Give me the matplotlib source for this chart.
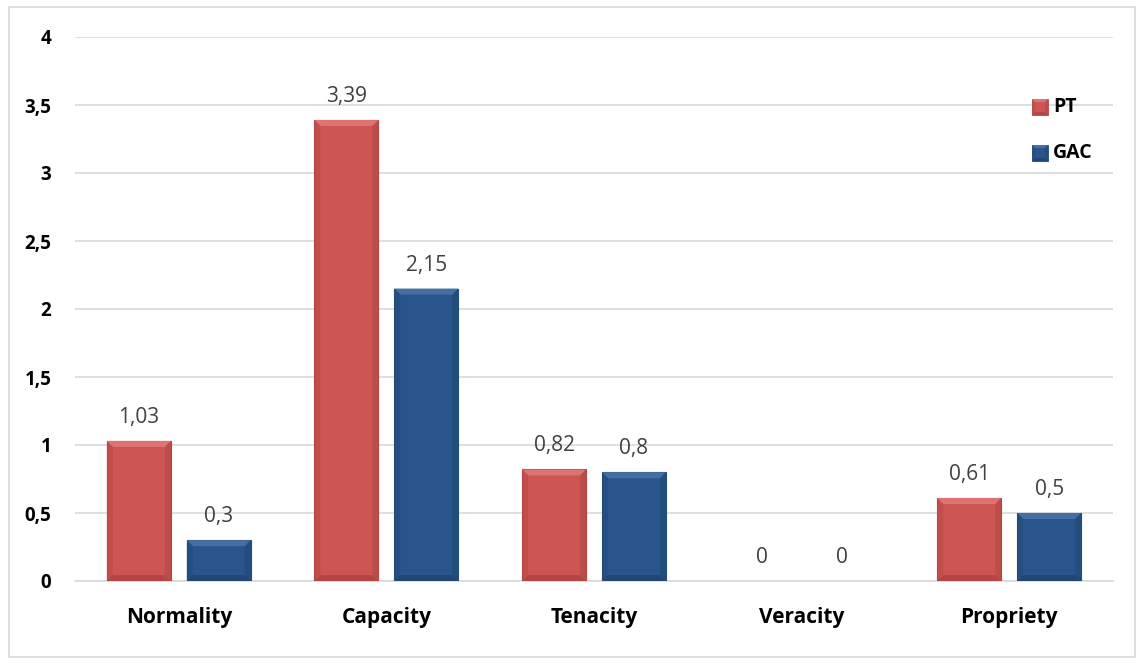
import matplotlib
matplotlib.use("Agg")
import matplotlib.pyplot as plt
from matplotlib.patches import Polygon, Rectangle
import numpy as np

categories = ["Normality", "Capacity", "Tenacity", "Veracity", "Propriety"]
pt_values = [1.03, 3.39, 0.82, 0.0, 0.61]
gac_values = [0.3, 2.15, 0.8, 0.0, 0.5]
pt_labels = ["1,03", "3,39", "0,82", "0", "0,61"]
gac_labels = ["0,3", "2,15", "0,8", "0", "0,5"]
y_ticks = [0, 0.5, 1, 1.5, 2, 2.5, 3, 3.5, 4]
y_ticklabels = ["0", "0,5", "1", "1,5", "2", "2,5", "3", "3,5", "4"]
series_names = ["PT", "GAC"]

plt.rcParams['font.family'] = ['Open Sans', 'DejaVu Sans']

W, H = 1142, 664
fig = plt.figure(figsize=(W / 100, H / 100), dpi=100)
ax = fig.add_axes([75 / W, (H - 581) / H, (1113 - 75) / W, (581 - 37) / H])

# outer border
fig.patches.append(Rectangle((9 / W, 1 - 657 / H), (1135 - 9) / W, (657 - 7) / H,
                             transform=fig.transFigure, fill=False,
                             edgecolor="#D9D9D9", linewidth=1.2))

x = np.arange(len(categories))
bw = 0.308
off = 0.1925

styles = {
    "PT": dict(face="#CD5654", top="#DE7472", side="#B84846", bot="#A23C3A", edge="#B04644"),
    "GAC": dict(face="#2A558C", top="#456EA2", side="#214A7A", bot="#1A3E68", edge="#234B7B"),
}

ppx = 5.0 / (1113 - 75)
ppy = 4.0 / (581 - 37)
bev_px = 6


def bevel(axis, x0, x1, y0, y1, bx, by, st, tr=None):
    kw = dict(closed=True, edgecolor="none", zorder=4)
    if tr is not None:
        kw["transform"] = tr
    axis.add_artist(Polygon([(x0, y1), (x1, y1), (x1 - bx, y1 - by), (x0 + bx, y1 - by)],
                            facecolor=st["top"], **kw))
    axis.add_artist(Polygon([(x0, y1), (x0 + bx, y1 - by), (x0 + bx, y0 + by), (x0, y0)],
                            facecolor=st["side"], alpha=0.5, **kw))
    axis.add_artist(Polygon([(x1, y1), (x1 - bx, y1 - by), (x1 - bx, y0 + by), (x1, y0)],
                            facecolor=st["side"], alpha=0.7, **kw))
    axis.add_artist(Polygon([(x0, y0), (x1, y0), (x1 - bx, y0 + by), (x0 + bx, y0 + by)],
                            facecolor=st["bot"], alpha=0.6, **kw))


def draw_bars(xs, vals, st):
    for xc, h in zip(xs, vals):
        if h <= 0:
            continue
        ax.bar(xc, h, width=bw, color=st["face"], edgecolor=st["edge"],
               linewidth=0.8, zorder=3)
        bevel(ax, xc - bw / 2, xc + bw / 2, 0, h, bev_px * ppx,
              min(bev_px * ppy, h / 2), st)


draw_bars(x - off, pt_values, styles["PT"])
draw_bars(x + off, gac_values, styles["GAC"])

lab_off = 18 * ppy
for xi, v, lab in zip(x - off, pt_values, pt_labels):
    ax.text(xi, v + lab_off, lab, ha="center", va="baseline", fontsize=15, color="#404040", zorder=5)
for xi, v, lab in zip(x + off, gac_values, gac_labels):
    ax.text(xi, v + lab_off, lab, ha="center", va="baseline", fontsize=15, color="#404040", zorder=5)

ax.set_xlim(-0.5, 4.5)
ax.set_ylim(0, 4)
ax.set_yticks(y_ticks)
ax.set_yticklabels(y_ticklabels, fontsize=13.5, fontweight="bold", color="#000000")
ax.set_xticks(x)
ax.set_xticklabels(categories, fontsize=15, fontweight="bold", color="#000000")
ax.tick_params(axis="both", length=0)
ax.tick_params(axis="y", pad=17)
ax.tick_params(axis="x", pad=19)
ax.grid(axis="y", color="#D9D9D9", linewidth=1.2, zorder=0)
ax.set_axisbelow(True)
for s in ["top", "right", "left"]:
    ax.spines[s].set_visible(False)
ax.spines["bottom"].set_color("#D9D9D9")
ax.spines["bottom"].set_linewidth(1.2)

# legend drawn manually in pixel-based figure coordinates
leg_rows = [(99, 115), (145, 161)]
for name, (yt, yb) in zip(series_names, leg_rows):
    st = styles[name]
    x0, x1 = 1032 / W, 1048 / W
    y0, y1 = 1 - yb / H, 1 - yt / H
    fig.patches.append(Rectangle((x0, y0), x1 - x0, y1 - y0, transform=fig.transFigure,
                                 facecolor=st["face"], edgecolor=st["edge"], linewidth=0.6))
    bevel(fig, x0, x1, y0, y1, 3 / W, 3 / H, st, tr=fig.transFigure)
    fig.text(1053 / W, 1 - (yt + yb) / 2 / H, name, ha="left", va="center",
             fontsize=14, fontweight="bold", color="#000000")

fig.savefig("out.png", dpi=100, facecolor="white")
